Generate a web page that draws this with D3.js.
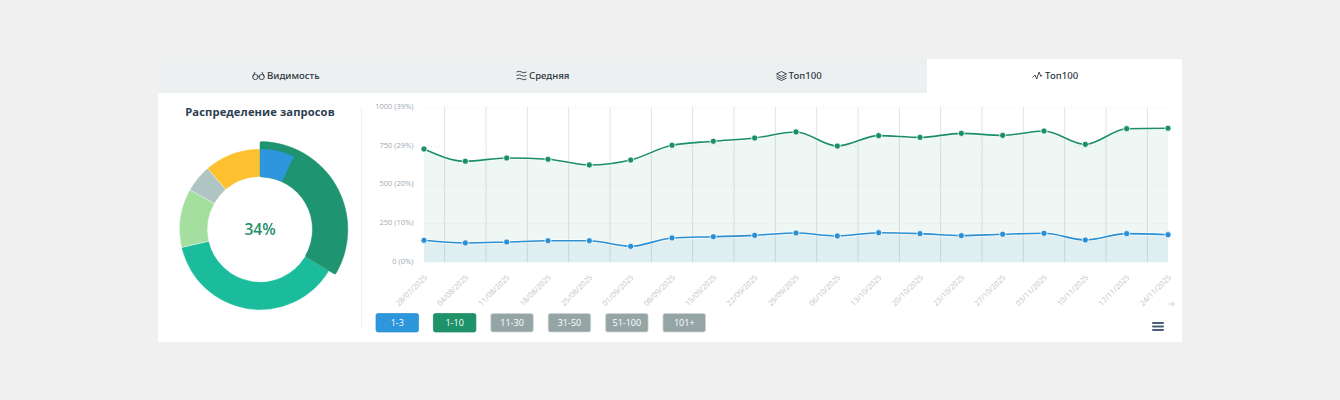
<!DOCTYPE html>
<html><head><meta charset="utf-8">
<script src="https://cdn.jsdelivr.net/npm/d3@7/dist/d3.min.js"></script>
<style>html,body{margin:0;padding:0;background:#f0f0f0}svg{display:block}text{font-family:"Open Sans",sans-serif}</style>
</head><body><svg id="c" width="1340" height="400"></svg>
<script>
const dates=["28/07/2025","04/08/2025","11/08/2025","18/08/2025","25/08/2025","01/09/2025","08/09/2025","15/09/2025","22/09/2025","29/09/2025","06/10/2025","13/10/2025","20/10/2025","23/10/2025","27/10/2025","03/11/2025","10/11/2025","17/11/2025","24/11/2025"];
const top10=[731,652,673,665,628,660,755,781,802,841,750,817,806,832,819,847,761,862,865];
const top3=[142,125,131,139,139,103,157,165,174,189,170,191,185,172,181,187,144,185,178];
const yTicks=[0,250,500,750,1000];
const yPercents=[0,10,20,29,39];
const ringLabels=["1-10","11-30","31-50","51-100","101+"];
const ringValues=[33.6,37.8,11.8,5.5,11.3];
const ringColors=["#1e9470","#1abc9c","#a5dfa0","#b0c4c4","#fdc02f"];
const top3Share=6.9;
const buttons=["1-3","1-10","11-30","31-50","51-100","101+"];
const buttonColors=["#2e96dd","#1e9268","#95a5a6","#95a5a6","#95a5a6","#95a5a6"];
const tabs=["Видимость","Средняя","Топ100","Топ100"];

const svg=d3.select("#c");
svg.append("rect").attr("x",158).attr("y",59).attr("width",1024).attr("height",283).attr("fill","#fff");
svg.append("rect").attr("x",158).attr("y",59).attr("width",769).attr("height",34).attr("fill","#edf0f1");

// tabs
const icons=[
 g=>{g.append("circle").attr("cx",-3.2).attr("cy",1.5).attr("r",2.6);g.append("circle").attr("cx",3.2).attr("cy",1.5).attr("r",2.6);g.append("path").attr("d","M-.8 1.2Q0 .4.8 1.2M-5.6 1L-3.5-3.5M5.6 1L3.5-3.5");},
 g=>{g.append("path").attr("d","M-5-3.5Q-2-5 0-3.5T5-3.5M-5 0Q-2-1.5 0 0T5 0M-5 3.5Q-2 2 0 3.5T5 3.5");},
 g=>{g.append("path").attr("d","M0-4L5-1.6 0 .8-5-1.6ZM-5 .6L0 3 5 .6M-5 2.6L0 5 5 2.6");},
 g=>{g.append("path").attr("d","M-5 2L-2.5-.5-.8 3.5 1.6-3.5 3.4 1 4.8-.5");}
];
tabs.forEach((t,i)=>{
  const g=svg.append("g").attr("transform",`translate(${[258.5,521.5,781.5,1037.5][i]},75.5)`)
    .attr("fill","none").attr("stroke","#2b3a42").attr("stroke-width",.9);
  icons[i](g);
  svg.append("text").attr("x",[267,529,788.5,1045][i]).attr("y",79.3).attr("font-size",9.6).attr("font-weight",500)
    .attr("fill","#2a3640").style("font-family","'Noto Sans'").text(t);
});

// left
svg.append("text").attr("x",260).attr("y",116).attr("text-anchor","middle").attr("font-size",11.2).attr("font-weight",700)
  .attr("letter-spacing",.1).attr("fill","#2c3e50").text("Распределение запросов");
svg.append("line").attr("x1",361.5).attr("x2",361.5).attr("y1",107).attr("y2",329).attr("stroke","#f0f0f0");

// donut
const dg=svg.append("g").attr("transform","translate(260,229.4)");
const pie=d3.pie().sort(null).value(d=>d)(ringValues);
const arc=d3.arc().innerRadius(52.5).outerRadius(80.5).cornerRadius(1);
const arcHi=d3.arc().innerRadius(52.5).outerRadius(87.8).cornerRadius(1.5);
dg.selectAll("path.s").data(pie.slice(1)).join("path").attr("class","s")
  .attr("d",arc).attr("fill",(d,i)=>ringColors[i+1]).attr("stroke","#fff").attr("stroke-opacity",.5).attr("stroke-width",.6);
dg.append("path").attr("d",arcHi(pie[0])).attr("fill",ringColors[0]).attr("stroke","#1a8f67").attr("stroke-width",.5);
const total=d3.sum(ringValues);
dg.append("path").attr("d",arc({startAngle:0,endAngle:top3Share/total*2*Math.PI})).attr("fill",buttonColors[0]);
dg.append("text").attr("y",5.6).attr("text-anchor","middle").attr("font-size",15.5).attr("font-weight",600).attr("fill","#1e8f6c").text("34%");

// line chart
const y=d3.scaleLinear().domain([0,1000]).range([262.3,107.3]);
const x=d3.scalePoint().domain(dates).range([424,1168]);
const step=x.step();
const grid=svg.append("g");
grid.selectAll("line.h").data(yTicks.slice(1)).join("line").attr("class","h")
  .attr("x1",423).attr("x2",1168).attr("y1",d=>y(d)).attr("y2",d=>y(d))
  .attr("stroke","#e9ebeb").attr("stroke-dasharray","1 3");
grid.selectAll("line.v").data(dates.slice(0,-1)).join("line").attr("class","v")
  .attr("x1",d=>x(d)+step/2).attr("x2",d=>x(d)+step/2).attr("y1",y(1000)).attr("y2",y(0))
  .attr("stroke","#dfe3e6").attr("stroke-width",1);

const curve=d3.curveMonotoneX;
const area=vals=>d3.area().x((d,i)=>x(dates[i])).y0(y(0)).y1(d=>y(d)).curve(curve)(vals);
const line=vals=>d3.line().x((d,i)=>x(dates[i])).y(d=>y(d)).curve(curve)(vals);
svg.append("path").attr("d",area(top10)).attr("fill","#1e9268").attr("fill-opacity",.075);
svg.append("path").attr("d",area(top3)).attr("fill","#3498db").attr("fill-opacity",.08);
[[top10,"#1a8f67"],[top3,"#2a8fd3"]].forEach(([v,c])=>{
  svg.append("path").attr("d",line(v)).attr("fill","none").attr("stroke","#fff").attr("stroke-opacity",.7).attr("stroke-width",3.2);
  svg.append("path").attr("d",line(v)).attr("fill","none").attr("stroke",c).attr("stroke-width",1.6);
  svg.append("g").selectAll("circle").data(v).join("circle")
    .attr("cx",(d,i)=>x(dates[i])).attr("cy",d=>y(d)).attr("r",3.1).attr("fill",c).attr("stroke","#fff").attr("stroke-width",.8);
});

// axes
const yAxis=d3.axisLeft(y).tickValues(yTicks).tickSize(0).tickPadding(0)
  .tickFormat((d,i)=>`${d} (${yPercents[i]}%)`);
const ya=svg.append("g").attr("transform","translate(413.5,0)").call(yAxis);
ya.select(".domain").remove();
ya.selectAll("text").attr("font-size",7.5).attr("fill","#a0aab3").style("font-family","'Open Sans'").attr("dy",".15em");
const xAxis=d3.axisBottom(x).tickSize(0).tickPadding(0);
const xa=svg.append("g").attr("transform","translate(0,272)").call(xAxis);
xa.select(".domain").remove();
xa.selectAll("text").attr("font-size",7.6).attr("fill","#c2c6c9").style("font-family","'Open Sans'")
  .attr("text-anchor","end").attr("transform","translate(0,3) rotate(-45)").attr("dy","0.55em").attr("dx","0");
svg.append("path").attr("d","M1168.5 304H1174M1171.5 301.5L1174.5 304 1171.5 306.5").attr("fill","none").attr("stroke","#dfe2e4").attr("stroke-width",1.3);

// buttons
const bx=d3.scalePoint().domain(buttons).range([376,663]);
const b=svg.append("g").selectAll("g").data(buttons).join("g").attr("transform",d=>`translate(${bx(d)},313.5)`);
b.append("rect").attr("width",42.5).attr("height",18.5).attr("rx",2).attr("fill",(d,i)=>buttonColors[i])
  .attr("stroke",(d,i)=>i<2?d3.color(buttonColors[i]).darker(.2):"#d0d5d6").attr("stroke-width",.7);
b.append("text").attr("x",21.25).attr("y",12.7).attr("text-anchor","middle").attr("font-size",9).attr("fill","#fff").text(d=>d);

// menu icon
[323,326.5,330].forEach(v=>svg.append("rect").attr("x",1152).attr("y",v-.9).attr("width",12).attr("height",1.8).attr("rx",.8).attr("fill","#4a5f78"));
</script></body></html>
